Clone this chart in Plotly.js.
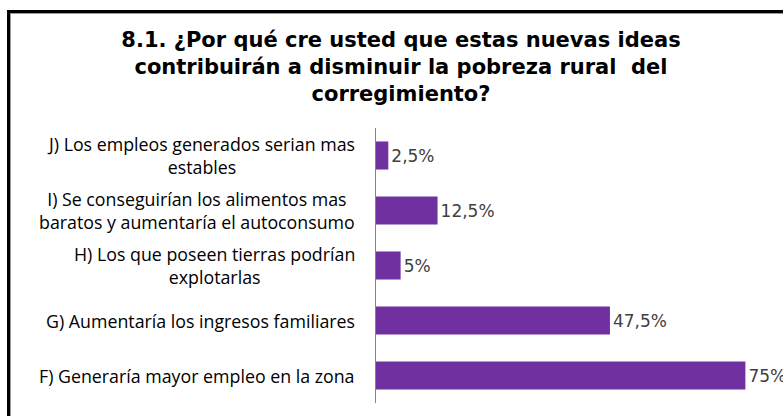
<!DOCTYPE html>
<html><head><meta charset="utf-8">
<script src="https://cdn.plot.ly/plotly-3.0.1.min.js"></script>
<style>
html,body{margin:0;padding:0;background:#fff;}
#wrap{position:relative;width:783px;height:416px;overflow:hidden;}
#chart{position:absolute;left:0;top:0;width:783px;height:416px;}
#b1{position:absolute;left:7px;top:10px;width:800px;height:420px;border-top:3px solid #000;border-left:3px solid #000;pointer-events:none;}
#b2{position:absolute;left:10px;top:13px;width:800px;height:420px;border-top:1px solid #9a9a9a;border-left:1px solid #9a9a9a;pointer-events:none;}
</style></head>
<body><div id="wrap"><div id="chart"></div><div id="b1"></div><div id="b2"></div></div>
<script>
const categories = ["F","G","H","I","J"];
const labels = [
  "F) Generaría mayor empleo en la zona",
  "G) Aumentaría los ingresos familiares",
  "H) Los que poseen tierras podrían<br>explotarlas",
  "I) Se conseguirían los alimentos mas<br>baratos y aumentaría el autoconsumo",
  "J) Los empleos generados serian mas<br>estables"
];
const values = [75, 47.5, 5, 12.5, 2.5];
const titleText = "8.1. ¿Por qué cre usted que estas nuevas ideas<br>contribuirán a disminuir la pobreza rural  del<br>corregimiento?";

const textLabels = values.map(v => String(v).replace('.', ',') + '%');

const trace = {
  type: 'bar', orientation: 'h',
  x: values, y: categories,
  marker: {color: '#7030A0'},
  text: textLabels, textposition: 'outside', cliponaxis: false,
  textfont: {family: 'DejaVu Sans', size: 17, color: '#404040'},
  hoverinfo: 'none'
};

const annotations = categories.map((c, i) => ({
  xref: 'paper', yref: 'y', x: 0, y: c, xanchor: 'right', yanchor: 'middle',
  xshift: -19, text: labels[i], showarrow: false, align: 'center',
  font: {family: 'Open Sans', size: 17.8, color: '#000'}
}));

const layout = {
  width: 783, height: 416,
  margin: {l: 376, r: 13, t: 128, b: 13},
  paper_bgcolor: '#fff', plot_bgcolor: '#fff',
  showlegend: false,
  bargap: 0.49,
  title: {text: titleText, x: 401/783, xanchor: 'center', xref: 'container', y: 0.888, yanchor: 'top', yref: 'container',
    font: {family: 'DejaVu Sans', size: 21, color: '#000', weight: 'bold'}},
  xaxis: {range: [0, 80], visible: false, fixedrange: true},
  yaxis: {showticklabels: false, ticks: '', showline: true, linecolor: '#868686', linewidth: 1,
    showgrid: false, zeroline: false, fixedrange: true},
  annotations: annotations
};
Plotly.newPlot('chart', [trace], layout, {displayModeBar: false, staticPlot: true});
</script></body></html>
